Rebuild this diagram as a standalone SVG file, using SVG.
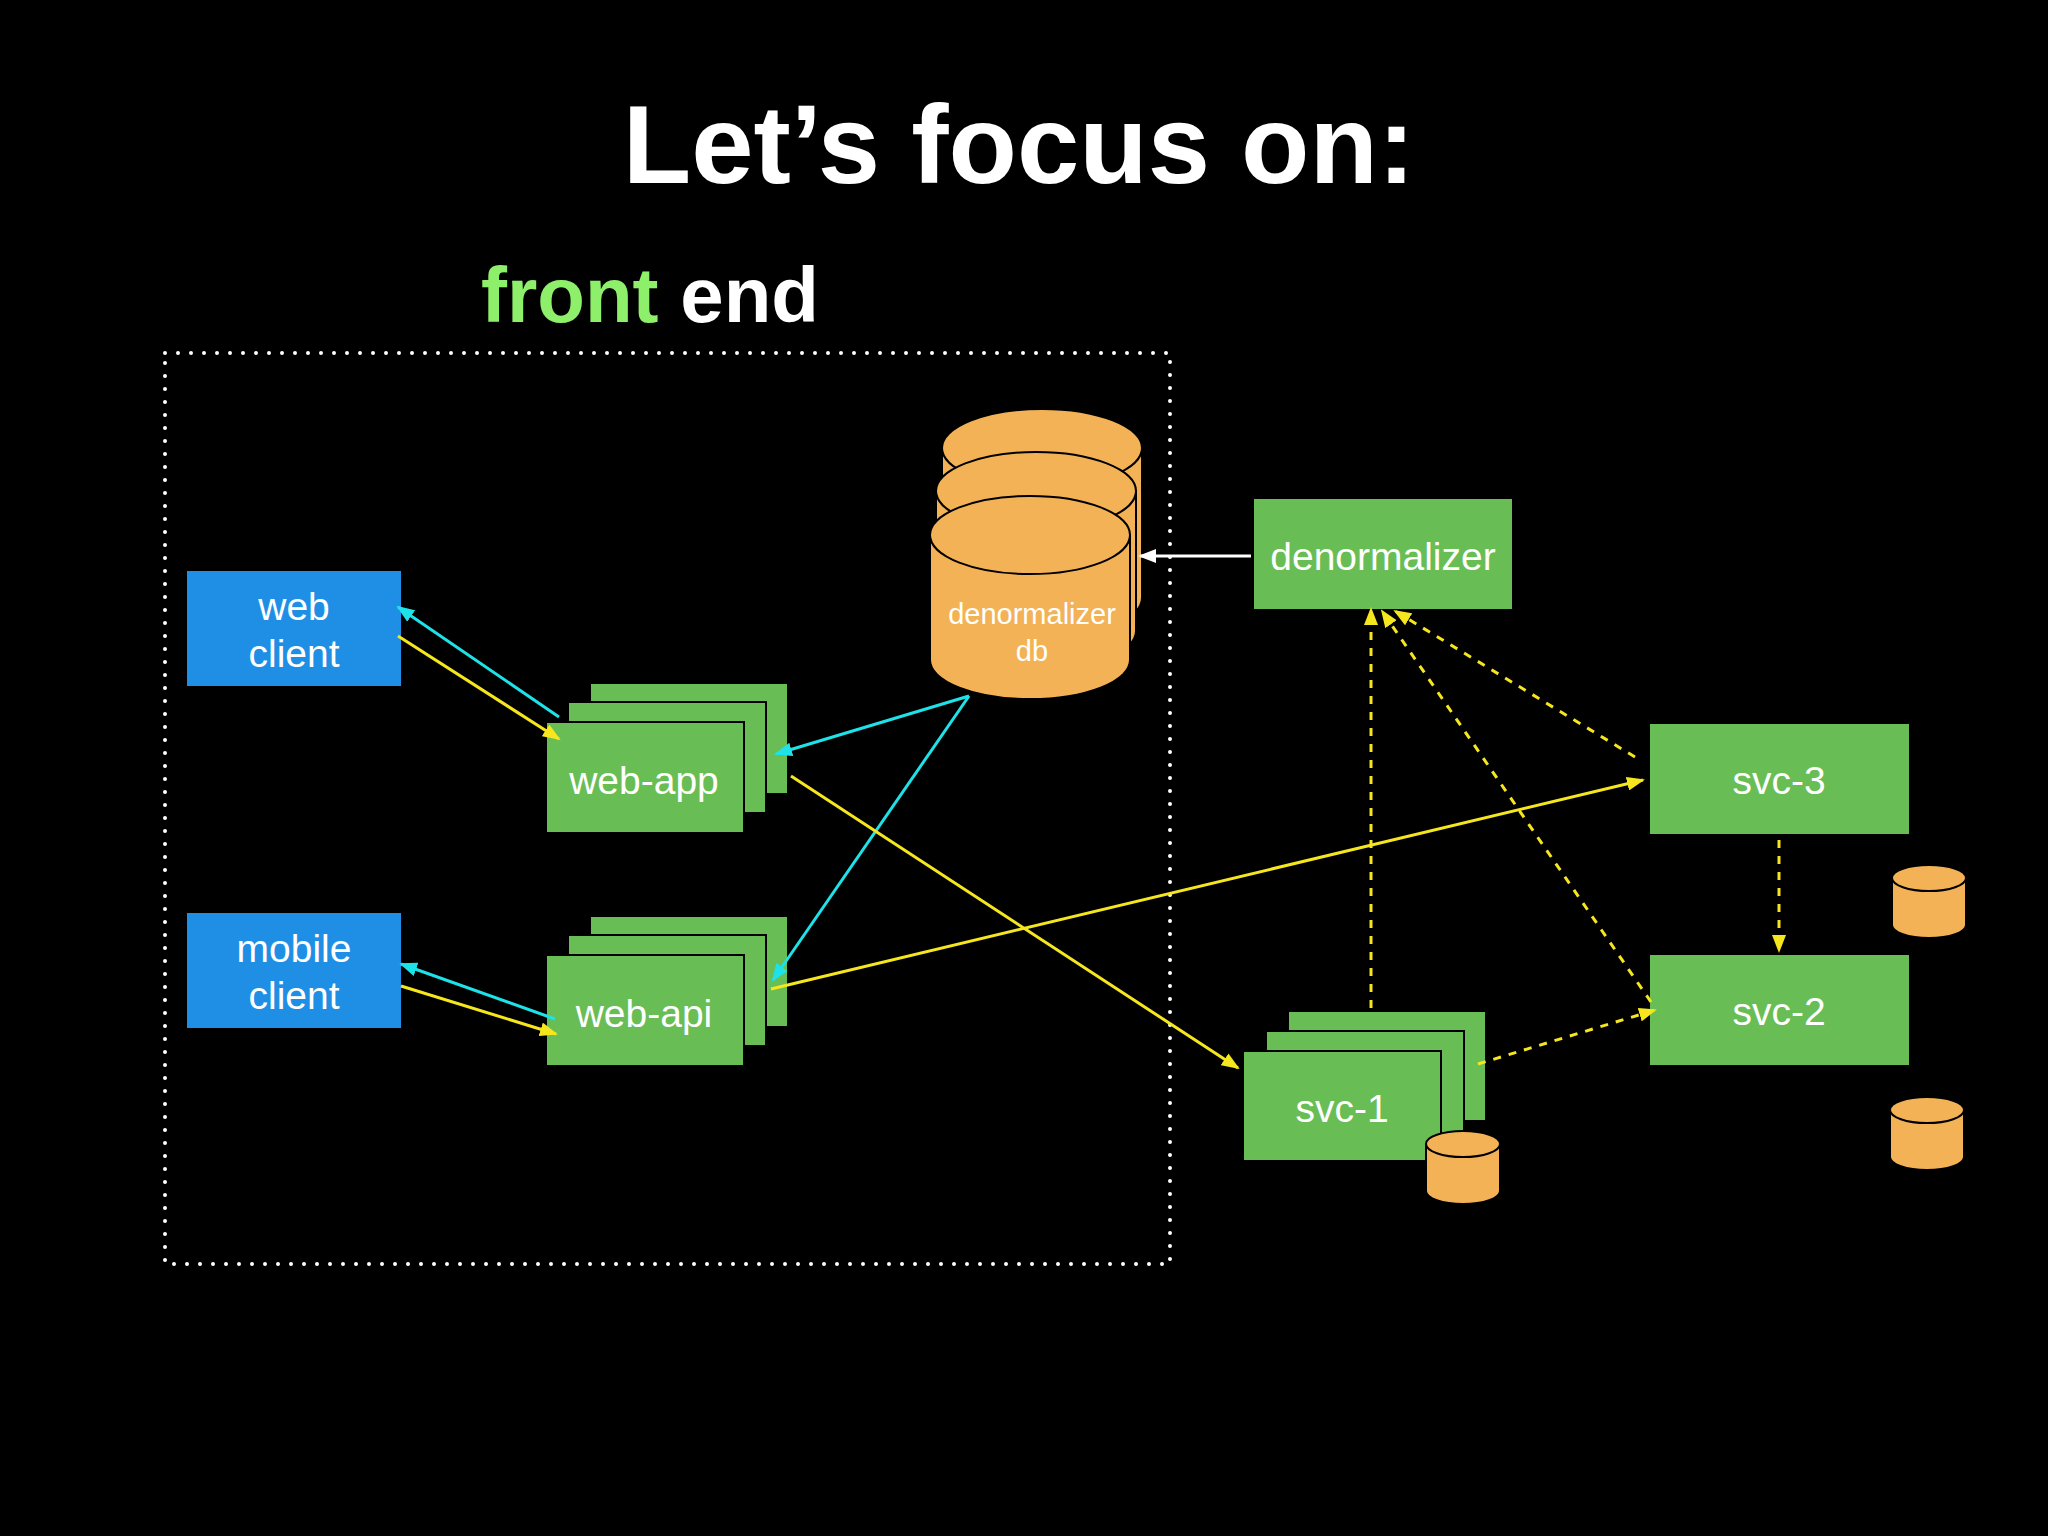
<svg xmlns="http://www.w3.org/2000/svg" width="2048" height="1536" viewBox="0 0 2048 1536">
<defs>
<style>
.g{fill:#69bd55}
.b{fill:#1f8fe6}
.t{fill:#fff;font-family:"Liberation Sans",Arial,sans-serif;font-size:39px;text-anchor:middle}
.s{font-size:29px}
.cy{fill:#f2b255;stroke:#000;stroke-width:2}
.y{stroke:#f5e61e;stroke-width:3;fill:none}
.c{stroke:#1de2e8;stroke-width:3;fill:none}
.d{stroke-dasharray:8 8}
</style>
<marker id="my" markerWidth="18" markerHeight="14" refX="16" refY="7" orient="auto" markerUnits="userSpaceOnUse" viewBox="0 0 18 14"><path d="M0,0L18,7L0,14z" fill="#f5e61e"/></marker>
<marker id="mc" markerWidth="18" markerHeight="14" refX="16" refY="7" orient="auto" markerUnits="userSpaceOnUse" viewBox="0 0 18 14"><path d="M0,0L18,7L0,14z" fill="#1de2e8"/></marker>
<marker id="mw" markerWidth="18" markerHeight="14" refX="16" refY="7" orient="auto" markerUnits="userSpaceOnUse" viewBox="0 0 18 14"><path d="M0,0L18,7L0,14z" fill="#fff"/></marker>
</defs>
<rect width="2048" height="1536" fill="#000"/>
<text x="1019" y="183" fill="#fff" font-family="'Liberation Sans',Arial,sans-serif" font-weight="bold" font-size="112" text-anchor="middle">Let’s focus on:</text>
<text x="481" y="322" font-family="'Liberation Sans',Arial,sans-serif" font-weight="bold" font-size="78"><tspan fill="#8ef06a">front</tspan><tspan fill="#fff"> end</tspan></text>
<rect x="165" y="353" width="1005" height="911" fill="none" stroke="#fff" stroke-width="4" stroke-dasharray="0 13" stroke-linecap="round"/>

<g id="web-client"><rect class="b" x="187" y="571" width="214" height="115"/><text class="t" x="294" y="620">web</text><text class="t" x="294" y="667">client</text></g>
<g id="mobile-client"><rect class="b" x="187" y="913" width="214" height="115"/><text class="t" x="294" y="962">mobile</text><text class="t" x="294" y="1009">client</text></g>

<g id="web-app"><rect class="g" x="590" y="683" width="198" height="111" stroke="#000" stroke-width="2"/><rect class="g" x="568" y="702" width="198" height="111" stroke="#000" stroke-width="2"/><rect class="g" x="546" y="722" width="198" height="111" stroke="#000" stroke-width="2"/><text class="t" x="644" y="794">web-app</text></g>
<g id="web-api"><rect class="g" x="590" y="916" width="198" height="111" stroke="#000" stroke-width="2"/><rect class="g" x="568" y="935" width="198" height="111" stroke="#000" stroke-width="2"/><rect class="g" x="546" y="955" width="198" height="111" stroke="#000" stroke-width="2"/><text class="t" x="644" y="1027">web-api</text></g>

<g id="denormalizer-db">
<path class="cy" d="M942,448 v150 a100,39 0 0 0 200,0 v-150 z"/><ellipse class="cy" cx="1042" cy="448" rx="100" ry="39"/>
<path class="cy" d="M936,491 v140 a100,39 0 0 0 200,0 v-140 z"/><ellipse class="cy" cx="1036" cy="491" rx="100" ry="39"/>
<path class="cy" d="M930,535 v125 a100,39 0 0 0 200,0 v-125 z"/><ellipse class="cy" cx="1030" cy="535" rx="100" ry="39"/>
<text class="t s" x="1032" y="624">denormalizer</text><text class="t s" x="1032" y="661">db</text>
</g>

<g id="denormalizer"><rect class="g" x="1254" y="499" width="258" height="110"/><text class="t" x="1383" y="570">denormalizer</text></g>
<g id="svc-3"><rect class="g" x="1650" y="724" width="259" height="110"/><text class="t" x="1779" y="794">svc-3</text></g>
<g id="svc-2"><rect class="g" x="1650" y="955" width="259" height="110"/><text class="t" x="1779" y="1025">svc-2</text></g>
<g id="svc-1"><rect class="g" x="1288" y="1011" width="198" height="110" stroke="#000" stroke-width="2"/><rect class="g" x="1266" y="1031" width="198" height="110" stroke="#000" stroke-width="2"/><rect class="g" x="1243" y="1051" width="198" height="110" stroke="#000" stroke-width="2"/><text class="t" x="1342" y="1122">svc-1</text>
<path class="cy" d="M1426,1144 v47 a37,13 0 0 0 74,0 v-47 z"/><ellipse class="cy" cx="1463" cy="1144" rx="37" ry="13"/></g>
<g id="svc-3-db"><path class="cy" d="M1892,878 v47 a37,13 0 0 0 74,0 v-47 z"/><ellipse class="cy" cx="1929" cy="878" rx="37" ry="13"/></g>
<g id="svc-2-db"><path class="cy" d="M1890,1110 v47 a37,13 0 0 0 74,0 v-47 z"/><ellipse class="cy" cx="1927" cy="1110" rx="37" ry="13"/></g>

<g id="connectors">
<line class="c" x1="559" y1="717" x2="398" y2="607" marker-end="url(#mc)"/>
<line class="y" x1="398" y1="636" x2="559" y2="739" marker-end="url(#my)"/>
<line class="c" x1="969" y1="696" x2="776" y2="754" marker-end="url(#mc)"/>
<line class="c" x1="969" y1="696" x2="773" y2="980" marker-end="url(#mc)"/>
<line class="y" x1="791" y1="776" x2="1238" y2="1068" marker-end="url(#my)"/>
<line class="y" x1="771" y1="989" x2="1643" y2="780" marker-end="url(#my)"/>
<line class="c" x1="555" y1="1019" x2="401" y2="964" marker-end="url(#mc)"/>
<line class="y" x1="401" y1="986" x2="556" y2="1034" marker-end="url(#my)"/>
<line x1="1251" y1="556" x2="1140" y2="556" stroke="#fff" stroke-width="3" marker-end="url(#mw)"/>
<line class="y d" x1="1371" y1="1008" x2="1371" y2="609" marker-end="url(#my)"/>
<line class="y d" x1="1635" y1="757" x2="1395" y2="611" marker-end="url(#my)"/>
<line class="y d" x1="1651" y1="1002" x2="1382" y2="611" marker-end="url(#my)"/>
<line class="y d" x1="1779" y1="840" x2="1779" y2="951" marker-end="url(#my)"/>
<line class="y d" x1="1478" y1="1064" x2="1655" y2="1010" marker-end="url(#my)"/>
</g>
</svg>
